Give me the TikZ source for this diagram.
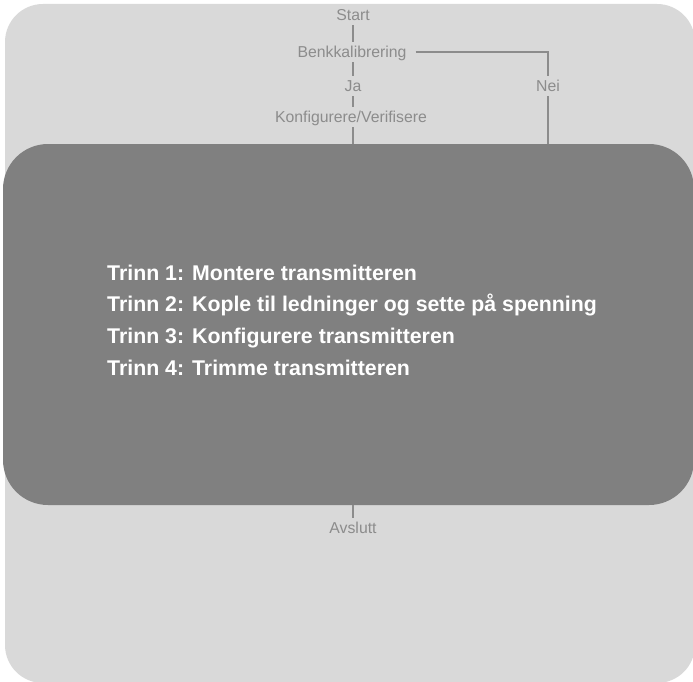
\documentclass[tikz,border=0pt]{standalone}
\usepackage{fontspec}
\setmainfont{Liberation Sans}
\definecolor{outerbg}{HTML}{D9D9D9}
\definecolor{panelbg}{HTML}{808080}
\definecolor{flowgray}{HTML}{8C8C8C}
\tikzset{
  flowtext/.style={anchor=base, inner xsep=1pt, inner ysep=0pt, text height=15.5pt, text depth=4.5pt,
    text=flowgray, font=\fontsize{15.8}{19}\selectfont},
  flowline/.style={draw=flowgray, line width=2.5pt},
  panelbox/.style={fill=panelbg, rounded corners=45pt, minimum width=691pt, minimum height=361pt, inner sep=0pt},
  steptext/.style={anchor=base west, inner sep=0pt, text=white, font=\fontsize{21.3}{26}\selectfont\bfseries}
}
\begin{document}
\begin{tikzpicture}[x=1pt,y=-1pt]
\useasboundingbox (0,0) rectangle (693,682);
\fill[outerbg, rounded corners=38pt] (5,4) rectangle (695,683);
\node[panelbox] (panel) at (348.5,324.5) {};
\node[flowtext] (start) at (353,20.7) {Start};
\node[flowtext] (benk) at (352,57.7) {Benkkalibrering};
\node[flowtext] (ja) at (353,91.7) {Ja};
\node[flowtext] (konf) at (351,122.7) {Konfigurere/Verifisere};
\node[flowtext] (nei) at (548,91.7) {Nei};
\node[flowtext] (avslutt) at (353,533.7) {Avslutt};
\draw[flowline] (start.south) -- (start.south |- benk.north);
\draw[flowline] (ja.north |- benk.south) -- (ja.north);
\draw[flowline] (ja.south) -- (ja.south |- konf.north);
\draw[flowline] (ja.south |- konf.south) -- (ja.south |- panel.north);
\draw[flowline, shorten <=8pt] (benk.east) -| (nei.north);
\draw[flowline] (nei.south) -- (nei.south |- panel.north);
\draw[flowline] (avslutt.north |- panel.south) -- (avslutt.north);
\node[steptext] (s1) at (107,280) {Trinn 1:\hspace{8pt}Montere transmitteren};
\node[steptext] (s2) at (107,311.8) {Trinn 2:\hspace{8pt}Kople til ledninger og sette på spenning};
\node[steptext] (s3) at (107,343.6) {Trinn 3:\hspace{8pt}Konfigurere transmitteren};
\node[steptext] (s4) at (107,375.4) {Trinn 4:\hspace{8pt}Trimme transmitteren};
\end{tikzpicture}
\end{document}
